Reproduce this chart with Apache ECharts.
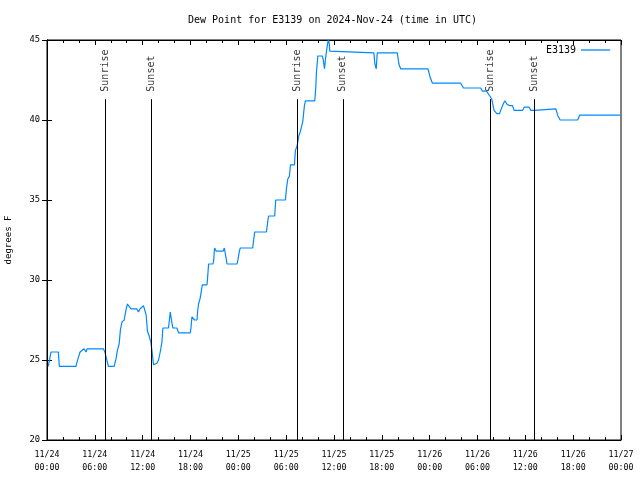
<!DOCTYPE html>
<html><head><meta charset="utf-8">
<script src="https://cdn.jsdelivr.net/npm/echarts@6/dist/echarts.min.js"></script>
<style>html,body{margin:0;padding:0;background:#fff}#c{width:640px;height:480px}</style>
</head><body><div id="c"></div>
<script>
var seriesName = 'E3139';
var hours = [0.16,0.41,0.5,1.42,1.55,3.64,3.73,3.9,4.15,4.4,
4.65,4.78,4.9,5.03,7.07,7.26,7.5,7.7,8.42,8.67,
8.83,9.05,9.21,9.42,9.68,9.93,10.09,10.34,10.52,11.27,
11.47,11.69,12.1,12.23,12.44,12.6,12.82,13.03,13.16,13.36,
13.57,13.78,13.99,14.2,14.41,14.54,15.24,15.46,15.67,15.8,
16.3,16.5,17.97,18.06,18.18,18.51,18.81,18.89,19.01,19.23,
19.35,19.48,20.07,20.14,20.27,20.82,20.9,21.02,21.24,22.08,
22.24,22.49,22.58,23.84,23.96,24.13,24.25,25.8,26.05,27.52,
27.73,27.81,28.56,28.69,29.91,30.03,30.2,30.41,30.54,31.04,
31.16,31.38,31.58,31.79,31.92,32.08,32.29,32.42,33.59,33.71,
33.8,33.97,34.52,34.64,34.81,34.93,35.06,35.27,35.4,35.47,
35.65,41.0,41.13,41.3,41.43,43.94,44.14,44.36,47.79,48.04,
48.34,51.9,52.24,54.41,54.62,55.13,55.25,55.54,55.79,56.08,
56.42,56.76,57.14,57.43,57.68,57.97,58.39,58.59,59.65,59.85,
60.48,60.69,60.9,61.1,61.32,63.83,64.05,64.37,66.56,66.81,
71.91];
var dewPoint = [24.6,24.6,25.5,25.5,24.6,24.6,24.8,25.1,25.5,25.5,
25.7,25.8,25.5,25.7,25.7,25.5,25.5,24.6,24.6,25.1,
25.6,26.0,26.9,27.4,27.5,28.2,28.5,28.5,28.2,28.2,
28.0,28.2,28.4,28.5,27.8,26.8,26.5,26.1,25.6,24.7,
24.8,24.8,25.0,25.5,26.1,27.0,27.0,28.0,27.3,27.0,
27.0,26.7,26.7,27.0,27.7,27.5,27.5,28.0,28.5,28.9,
29.0,29.7,29.7,30.1,31.0,31.0,31.2,32.0,31.8,31.8,
32.0,31.3,31.0,31.0,31.3,31.8,32.0,32.0,33.0,33.0,
33.8,34.0,34.0,35.0,35.0,35.7,36.3,36.5,37.2,37.2,
38.1,38.4,39.0,39.3,39.4,39.9,40.9,41.2,41.2,42.0,
43.0,44.0,44.0,43.8,43.2,43.8,44.3,45.0,44.8,44.3,
44.2,44.2,43.5,43.2,44.2,44.2,43.5,43.2,43.2,42.7,
42.3,42.3,42.0,42.0,41.8,41.8,41.7,41.5,41.3,40.6,
40.4,40.4,40.9,41.2,41.0,40.9,40.9,40.6,40.6,40.8,
40.8,40.6,40.5,40.6,40.7,40.7,40.3,40.0,40.0,40.3,
40.3];
var sunHours = [7.33, 13.11, 31.45, 37.1, 55.58, 61.16];
var sunLabels = ['Sunrise','Sunset','Sunrise','Sunset','Sunrise','Sunset'];
var sunLineTop = 41.3;
var sunLabelBase = 41.77;
var xTickLabels = ['11/24\n00:00','11/24\n06:00','11/24\n12:00','11/24\n18:00',
'11/25\n00:00','11/25\n06:00','11/25\n12:00','11/25\n18:00',
'11/26\n00:00','11/26\n06:00','11/26\n12:00','11/26\n18:00','11/27\n00:00'];

var FONT = "'DejaVu Sans Mono','Liberation Mono',monospace";
var chart = echarts.init(document.getElementById('c'), null, {renderer:'canvas'});
var lineData = hours.map(function(h,i){return [h, dewPoint[i]];});
var sunLineData = sunHours.map(function(h){return [{coord:[h,20]},{coord:[h,sunLineTop]}];});
var sunLabelData = sunHours.map(function(h,i){return {value:[h,sunLabelBase], name:sunLabels[i]};});

var tickCommon = {inside:true, length:5, lineStyle:{color:'#000',width:1}};
var minorCommon = {show:true, splitNumber:3, length:3, lineStyle:{color:'#000',width:1}};
chart.setOption({
  animation:false,
  backgroundColor:'#fff',
  title:{text:'Dew Point for E3139 on 2024-Nov-24 (time in UTC)', left:183, top:10,
    textStyle:{fontFamily:FONT, fontSize:10, fontWeight:'normal', color:'#000'}},
  legend:{data:[{name:seriesName, icon:'rect'}], right:25, top:40, align:'right', itemWidth:29, itemHeight:1.3,
    itemStyle:{color:'#0088ff'},
    textStyle:{fontFamily:FONT, fontSize:10, color:'#000'}},
  grid:{left:47, right:19, top:40, bottom:40, show:true, borderColor:'#000', borderWidth:1,
    containLabel:false, outerBoundsMode:'none'},
  xAxis:[{type:'value', min:0, max:72, interval:6, position:'bottom',
      axisLine:{show:true, lineStyle:{color:'#000'}}, axisTick:tickCommon, minorTick:minorCommon,
      splitLine:{show:false},
      axisLabel:{fontFamily:FONT, fontSize:8.3, color:'#000', margin:8, lineHeight:13,
        formatter:function(v){return xTickLabels[Math.round(v/6)];}}},
    {type:'value', min:0, max:72, interval:6, position:'top',
      axisLine:{show:true, lineStyle:{color:'#000'}}, axisTick:tickCommon, minorTick:minorCommon,
      splitLine:{show:false}, axisLabel:{show:false}}],
  yAxis:[{type:'value', min:20, max:45, interval:5, position:'left',
      name:'degrees F', nameLocation:'middle', nameGap:34, nameRotate:90,
      nameTextStyle:{fontFamily:FONT, fontSize:9, color:'#000'},
      axisLine:{show:true, lineStyle:{color:'#000'}}, axisTick:tickCommon,
      splitLine:{show:false},
      axisLabel:{fontFamily:FONT, fontSize:8.8, color:'#000', margin:7}},
    {type:'value', min:20, max:45, interval:5, position:'right',
      axisLine:{show:true, lineStyle:{color:'#000'}}, axisTick:tickCommon,
      splitLine:{show:false}, axisLabel:{show:false}}],
  series:[
    {name:seriesName, type:'line', data:lineData, symbol:'none', showSymbol:false,
      lineStyle:{color:'#0088ff', width:1.2}, itemStyle:{color:'#0088ff'},
      markLine:{silent:true, symbol:['none','none'], label:{show:false},
        lineStyle:{color:'#000', width:1, type:'solid'}, data:sunLineData}, z:3},
    {name:'sunLabels', type:'scatter', data:sunLabelData, symbolSize:1,
      itemStyle:{color:'transparent'}, silent:true,
      label:{show:true, position:'inside', rotate:90, align:'left', verticalAlign:'middle',
        formatter:function(p){return p.name;}, fontFamily:FONT, fontSize:10, color:'#000'}}
  ]
});
</script></body></html>
